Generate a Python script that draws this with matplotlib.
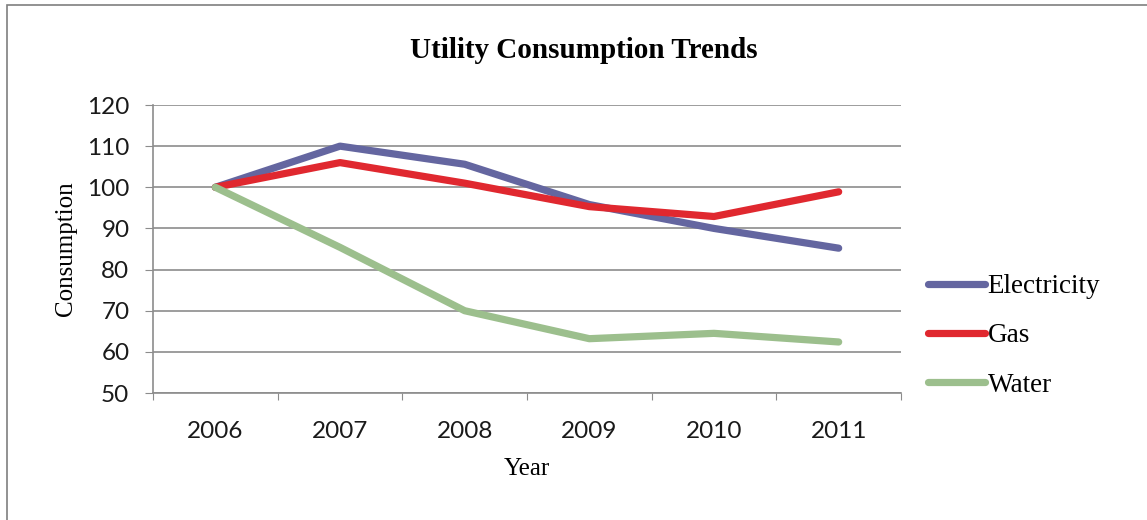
import matplotlib
matplotlib.use('Agg')
import matplotlib.pyplot as plt
from matplotlib.patches import Rectangle

years = ['2006', '2007', '2008', '2009', '2010', '2011']
electricity = [100, 110, 105.6, 95.8, 90, 85.2]
gas = [100, 106, 101, 95.3, 92.9, 98.9]
water = [100, 85.4, 70, 63.2, 64.5, 62.4]

serif = ['Liberation Serif', 'DejaVu Serif']
sans = ['Lato', 'DejaVu Sans']
grid_col = '#8c8c8c'

fig = plt.figure(figsize=(11.47, 5.2), dpi=100)
# outer chart frame (only top and left edges land inside the canvas)
fig.patches.append(Rectangle((7 / 1147, -0.1), 2, 1 - 5 / 520 + 0.1, transform=fig.transFigure,
                             fill=False, edgecolor='#7f7f7f', linewidth=1.2))

ax = fig.add_axes([153 / 1147, 1 - 393 / 520, 748 / 1147, 288 / 520])
x = list(range(len(years)))
style = dict(lw=5.2, solid_capstyle='round', solid_joinstyle='round')
ax.plot(x, electricity, color='#6466a0', label='Electricity', **style)
ax.plot(x, gas, color='#e0282f', label='Gas', **style)
ax.plot(x, water, color='#9cbf8d', label='Water', **style)

ax.set_xlim(-0.5, 5.5)
ax.set_ylim(50, 120)
ax.set_yticks(range(50, 121, 10))
ax.set_xticks([i - 0.5 for i in range(7)], minor=False)
ax.set_xticklabels([])
ax.set_xticks(x, minor=True)
ax.set_xticklabels(years, minor=True)
ax.tick_params(axis='x', which='minor', length=0, pad=20)
ax.tick_params(axis='x', which='major', length=5, color=grid_col, direction='out')
ax.tick_params(axis='y', length=6, color=grid_col, direction='out', pad=11)
for lbl in ax.get_xticklabels(minor=True) + ax.get_yticklabels():
    lbl.set_family(sans)
    lbl.set_fontsize(17.5)
    lbl.set_color('#1a1a1a')

ax.grid(axis='y', color=grid_col, lw=1.2)
ax.set_axisbelow(True)
for s in ('top', 'right'):
    ax.spines[s].set_visible(False)
for s in ('left', 'bottom'):
    ax.spines[s].set_color(grid_col)
    ax.spines[s].set_linewidth(1.2)

ax.set_xlabel('Year', family=serif, fontsize=18, labelpad=12)
ax.set_ylabel('Consumption', family=serif, fontsize=18, labelpad=7)
fig.text(584 / 1147, 1 - 51 / 520, 'Utility Consumption Trends', family=serif, fontsize=21,
         fontweight='bold', ha='center', va='center')

fig.legend(loc='center left', bbox_to_anchor=(928 / 1147, 1 - 336 / 520), bbox_transform=fig.transFigure,
           frameon=False, prop={'family': serif, 'size': 19.5}, handlelength=2.1, handletextpad=0.1,
           labelspacing=0.9, borderpad=0, borderaxespad=0)

fig.savefig('out.png', dpi=100, facecolor='white')
